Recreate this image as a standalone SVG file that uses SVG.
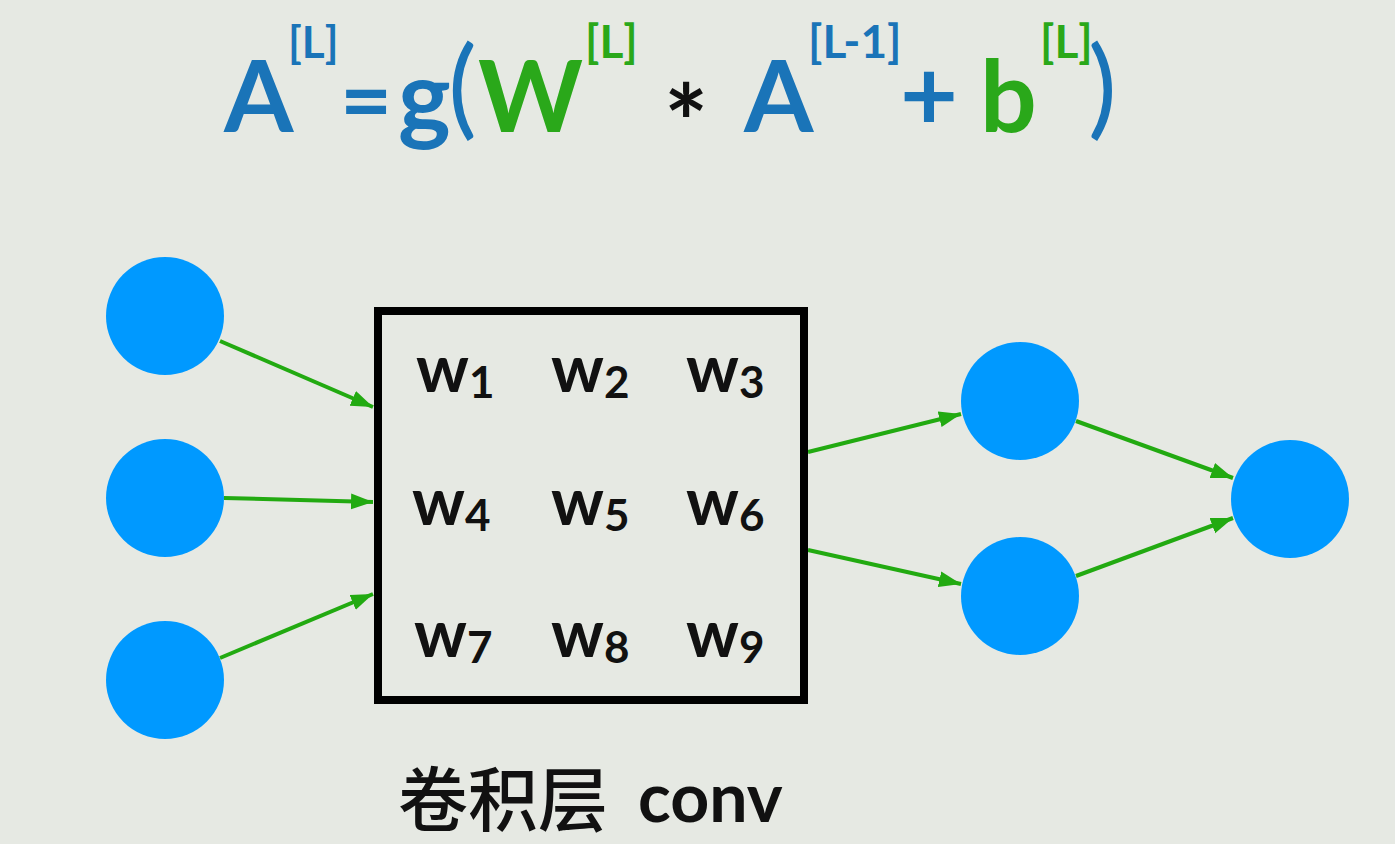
<svg xmlns="http://www.w3.org/2000/svg" width="1395" height="844" viewBox="0 0 1395 844">
<defs>
<marker id="ah" markerUnits="userSpaceOnUse" markerWidth="24" markerHeight="18" refX="22" refY="9" orient="auto">
<path d="M0,1 L22,9 L0,17 Z" fill="#22aa11"/>
</marker>
<style>
.bg{fill:#e6e9e3}
.node{fill:#0099ff}
.edge{stroke:#22aa11;stroke-width:4;fill:none;marker-end:url(#ah)}
.f{font-family:Lato,"Liberation Sans",sans-serif;font-weight:bold}
.blue{fill:#1a74b8}
.green{fill:#2aa81a}
.w{font-family:Lato,"Liberation Sans",sans-serif;font-weight:bold;font-size:66px;fill:#111}
.sub{font-size:44px}
</style>
</defs>
<rect class="bg" x="0" y="0" width="1395" height="844"/>

<g id="formula" class="f">
<text class="blue" x="224" y="132" font-size="100">A</text>
<text class="blue" x="288" y="58" font-size="44">[L]</text>
<text class="blue" x="340" y="132" font-size="90">=</text>
<text class="blue" x="398" y="132" font-size="100">g</text>
<text class="blue" x="448" y="125" font-size="108" font-weight="normal">(</text>
<text class="green" x="478" y="132" font-size="100">W</text>
<text class="green" x="585" y="58" font-size="46">[L]</text>
<text fill="#111" x="664" y="160" font-size="104">*</text>
<text class="blue" x="744" y="132" font-size="100">A</text>
<text class="blue" x="808" y="58" font-size="46">[L-1]</text>
<text class="blue" x="900" y="130" font-size="100">+</text>
<text class="green" x="980" y="132" font-size="100">b</text>
<text class="green" x="1040" y="58" font-size="46">[L]</text>
<text class="blue" x="1088" y="125" font-size="108" font-weight="normal">)</text>
</g>

<g id="connectors">
<line class="edge" x1="220" y1="341" x2="373" y2="407"/>
<line class="edge" x1="224" y1="498" x2="373" y2="502"/>
<line class="edge" x1="220" y1="658" x2="373" y2="594"/>
<line class="edge" x1="808" y1="452" x2="961" y2="414"/>
<line class="edge" x1="808" y1="550" x2="961" y2="584"/>
<line class="edge" x1="1076" y1="421" x2="1233" y2="478"/>
<line class="edge" x1="1076" y1="576" x2="1233" y2="518"/>
</g>

<g id="in1"><circle class="node" cx="165" cy="316" r="59"/></g>
<g id="in2"><circle class="node" cx="165" cy="498" r="59"/></g>
<g id="in3"><circle class="node" cx="165" cy="680" r="59"/></g>
<g id="h1"><circle class="node" cx="1020" cy="401" r="59"/></g>
<g id="h2"><circle class="node" cx="1020" cy="596" r="59"/></g>
<g id="out"><circle class="node" cx="1290" cy="499" r="59"/></g>

<g id="conv">
<rect x="378" y="311" width="426" height="389" fill="none" stroke="#000" stroke-width="8"/>
<text class="w" x="416" y="392">w<tspan class="sub" dy="6">1</tspan></text>
<text class="w" x="551" y="392">w<tspan class="sub" dy="6">2</tspan></text>
<text class="w" x="686" y="392">w<tspan class="sub" dy="6">3</tspan></text>
<text class="w" x="412" y="525">w<tspan class="sub" dy="6">4</tspan></text>
<text class="w" x="551" y="525">w<tspan class="sub" dy="6">5</tspan></text>
<text class="w" x="686" y="525">w<tspan class="sub" dy="6">6</tspan></text>
<text class="w" x="414" y="657">w<tspan class="sub" dy="6">7</tspan></text>
<text class="w" x="551" y="657">w<tspan class="sub" dy="6">8</tspan></text>
<text class="w" x="686" y="657">w<tspan class="sub" dy="6">9</tspan></text>
</g>

<g id="label">
<text x="398" y="826" font-family="'Noto Sans CJK SC',sans-serif" font-size="70" font-weight="500" fill="#111">卷积层</text>
<text x="638" y="822" font-family="Lato,'Liberation Sans',sans-serif" font-weight="bold" font-size="68" fill="#111">conv</text>
</g>
</svg>
